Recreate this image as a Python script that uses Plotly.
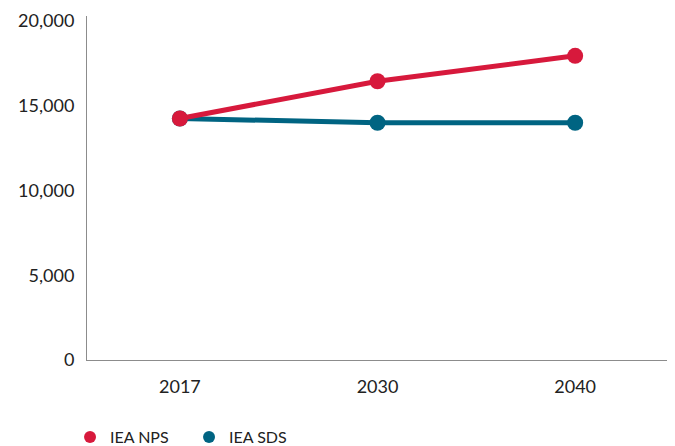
import plotly.graph_objects as go

years = ["2017", "2030", "2040"]
nps = [14250, 16450, 17950]
sds = [14250, 14000, 14000]
series_names = ["IEA NPS", "IEA SDS"]
colors = ["#D7193C", "#006482"]
y_ticks = [0, 5000, 10000, 15000, 20000]
y_ticktext = ["0", "5,000", "10,000", "15,000", "20,000"]

fig = go.Figure()
# draw SDS first so NPS sits on top at 2017
for name, vals, col in reversed(list(zip(series_names, [nps, sds], colors))):
    fig.add_trace(go.Scatter(
        x=years, y=vals, mode="lines+markers", name=name,
        line=dict(color=col, width=5),
        marker=dict(color=col, size=16),
        showlegend=False,
    ))
# legend-only entries (dots)
for name, col in zip(series_names, colors):
    fig.add_trace(go.Scatter(
        x=[None], y=[None], mode="markers", name=name,
        marker=dict(color=col, size=12),
    ))

fig.update_layout(
    width=667, height=438,
    margin=dict(l=79, r=3, t=8, b=86, autoexpand=False),
    plot_bgcolor="white", paper_bgcolor="white",
    font=dict(family="Lato, Open Sans, sans-serif", size=18, color="#222222"),
    xaxis=dict(
        type="category", range=[-0.47, 2.49], automargin=False,
        showline=True, linecolor="#8c8c8c", linewidth=1,
        showgrid=False, zeroline=False,
        ticks="outside", ticklen=10, tickcolor="rgba(0,0,0,0)",
        tickfont=dict(size=18),
    ),
    yaxis=dict(
        range=[0, 20300], tickvals=y_ticks, ticktext=y_ticktext, automargin=False,
        showline=True, linecolor="#8c8c8c", linewidth=1,
        showgrid=False, zeroline=False,
        ticks="outside", ticklen=8, tickcolor="rgba(0,0,0,0)",
        tickfont=dict(size=18),
    ),
    legend=dict(
        orientation="h", x=-0.029, xanchor="left", y=-0.224, yanchor="middle",
        font=dict(size=16), entrywidth=74, entrywidthmode="pixels",
        tracegroupgap=0, itemsizing="trace",
    ),
)
fig.write_html("out.html")
